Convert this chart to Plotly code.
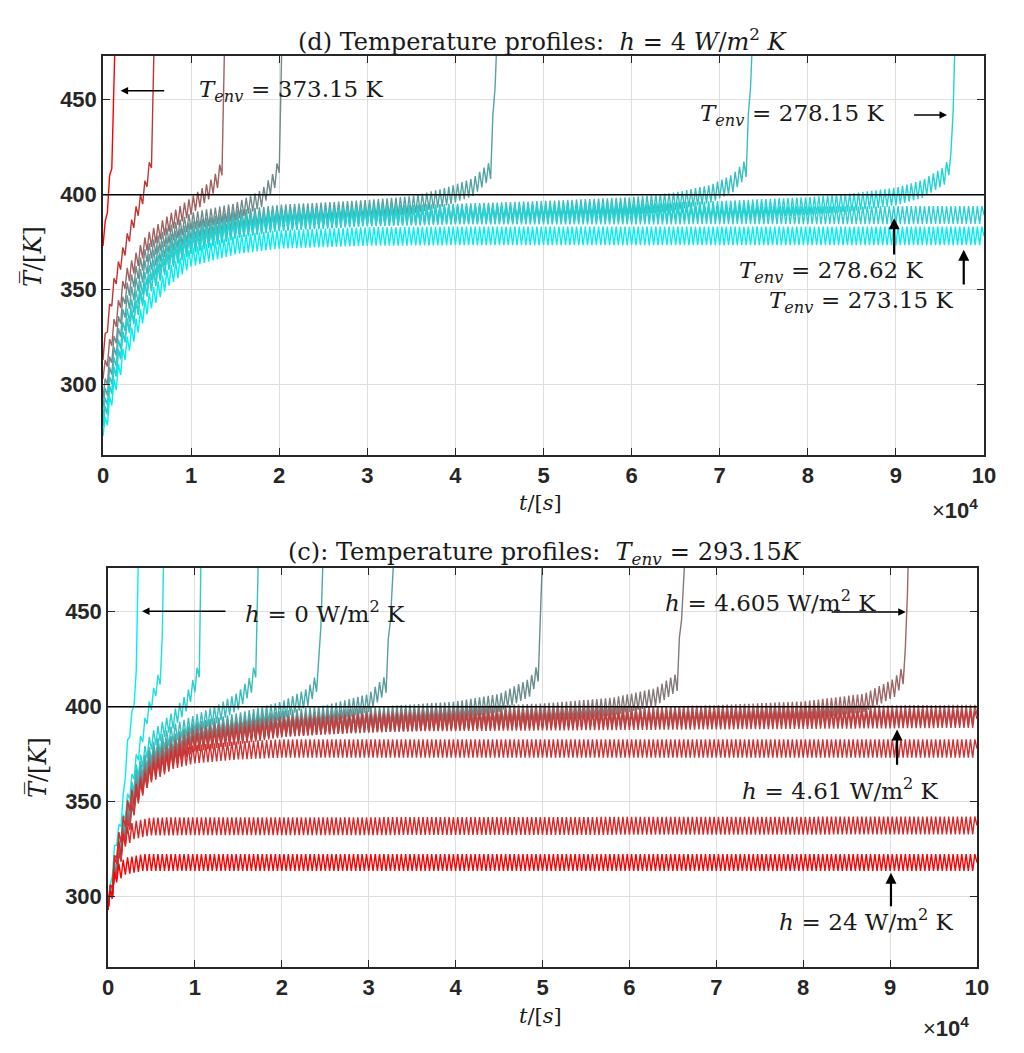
import numpy as np
import plotly.graph_objects as go

PERIOD = 500.0  # s, spacing of the teeth

# ---- (d) h = 4 W/m2K, several T_env  (knot times in units of 1e4 s, temps in K)
top_t = [
    [0, 0.045, 0.08, 0.11, 0.136],
    [0, 0.04, 0.136, 0.25, 0.36, 0.458, 0.55, 0.58],
    [0, 0.1, 0.25, 0.5, 0.75, 1.0, 1.2, 1.3, 1.36, 1.38],
    [0, 0.1, 0.25, 0.5, 0.75, 1.0, 1.5, 1.8, 1.95, 2.0, 2.03],
    [0, 0.1, 0.25, 0.5, 0.75, 1.0, 1.5, 2.0, 3.0, 3.5, 3.9, 4.2, 4.4, 4.47],
    [0, 0.1, 0.25, 0.5, 0.75, 1.0, 1.5, 2.0, 3.0, 4.0, 5.0, 6.0, 6.5, 6.9, 7.15, 7.3, 7.37],
    [0, 0.1, 0.25, 0.5, 0.75, 1.0, 1.5, 2.0, 3.0, 4.0, 6.0, 7.0, 8.0, 8.5, 9.0, 9.3, 9.55, 9.63, 9.67],
    [0, 0.1, 0.25, 0.5, 0.75, 1.0, 1.5, 2.0, 3.0, 4.0, 10.0],
    [0, 0.1, 0.25, 0.5, 0.75, 1.0, 1.5, 2.0, 3.0, 4.0, 10.0],
]
top_T = [
    [373, 391, 410, 420, 480],
    [313, 329, 355, 372, 388, 400, 418, 480],
    [303, 325, 355, 375, 385, 394, 402, 408, 416, 480],
    [293, 316, 347, 369, 379, 386, 391, 398, 408, 416, 480],
    [288, 310, 340, 363, 374, 381, 387, 390, 392.5, 394.5, 399, 404, 413, 480],
    [283, 305, 333, 357, 370, 377, 384, 387.5, 389.5, 390.5, 392, 394, 396.5, 400.5, 406, 414, 480],
    [278, 300, 328, 352, 366, 374, 382, 386, 388.5, 389.5, 390.5, 392, 394, 396, 399, 403, 410, 418, 480],
    [278.6, 300, 327, 351, 365, 373.5, 381.5, 385.5, 388, 389, 389.3],
    [273, 294, 318, 342, 357, 367, 373.5, 376.5, 378, 378.3, 378.3],
]
top_amp = [3.0, 4.0, 4.5, 4.5, 4.7, 4.7, 4.7, 4.7, 4.9]
top_col = ["#ff0000", "#c23434", "#a26060", "#738a8a", "#55a3a3",
           "#37c0c0", "#22d4d4", "#2ad0d0", "#00f0f0"]

# ---- (c) T_env = 293.15 K, several h
bot_t = [
    [0, 0.08, 0.16, 0.22, 0.29, 0.33, 0.35],
    [0, 0.1, 0.2, 0.33, 0.45, 0.56, 0.62, 0.64],
    [0, 0.1, 0.2, 0.33, 0.5, 0.75, 0.9, 1.0, 1.05, 1.07],
    [0, 0.1, 0.2, 0.33, 0.5, 0.75, 1.0, 1.25, 1.5, 1.65, 1.7, 1.73],
    [0, 0.1, 0.2, 0.33, 0.5, 1.0, 1.5, 2.0, 2.3, 2.42, 2.48],
    [0, 0.1, 0.2, 0.33, 0.5, 1.0, 1.5, 2.0, 2.5, 3.0, 3.2, 3.29],
    [0, 0.1, 0.2, 0.33, 0.5, 1.0, 2.0, 3.0, 4.0, 4.5, 4.85, 4.95, 5.0],
    [0, 0.1, 0.2, 0.33, 0.5, 1.0, 2.0, 3.0, 4.0, 5.0, 5.8, 6.3, 6.55, 6.64],
    [0, 0.1, 0.2, 0.33, 0.5, 1.0, 2.0, 4.0, 6.0, 7.0, 8.0, 8.7, 9.05, 9.17, 9.21],
    [0, 0.1, 0.2, 0.33, 0.5, 1.0, 2.0, 4.0, 6.0, 8.0, 10.0],
    [0, 0.1, 0.2, 0.33, 0.5, 1.0, 2.0, 3.0, 10.0],
    [0, 0.1, 0.25, 0.5, 0.75, 1.0, 1.5, 2.0, 10.0],
    [0, 0.05, 0.1, 0.2, 0.3, 0.5, 10.0],
    [0, 0.05, 0.1, 0.2, 0.4, 10.0],
]
bot_T = [
    [293, 326, 342, 378, 399, 418, 480],
    [293, 322, 345, 372, 395, 411, 418, 480],
    [293, 320, 342, 366, 382, 393, 402, 412, 420, 480],
    [293, 319, 340, 363, 376, 386, 391, 396, 403, 412, 420, 480],
    [293, 318, 338, 361, 374, 387, 392, 398, 405, 414, 480],
    [293, 317, 337, 359, 372, 386, 390, 393, 396, 402, 412, 480],
    [293, 316, 336, 357, 371, 385, 391, 395, 398, 402, 410, 418, 480],
    [293, 316, 335, 356, 370, 384, 390, 393, 395, 397, 400, 405, 413, 480],
    [293, 315, 334, 355, 369, 384, 390, 393, 395, 396, 398, 402, 410, 418, 480],
    [293, 315, 333, 354, 368, 383, 389.5, 393, 394.5, 395.5, 396],
    [293, 314, 332, 352, 366, 381, 388.5, 391.5, 393.5],
    [293, 325, 350, 365, 372, 375, 377, 378, 378],
    [293, 310, 322, 331, 335, 337, 337.5],
    [293, 305, 312, 316, 318, 318],
]
bot_amp = [3.0, 4.0, 4.5, 4.6, 4.7, 4.7, 4.7, 4.7, 4.8, 5.0, 4.6, 4.8, 4.7, 4.4]
bot_col = ["#00f0f0", "#1ee0e0", "#2ad0d0", "#3cbdbd", "#4aabab", "#5a9e9e",
           "#6a8e8e", "#857878", "#9e6666", "#ad5a5a", "#c43c3c", "#cf3232",
           "#dc2424", "#ff0000"]

xticks = list(range(0, 11))
yticks = [300, 350, 400, 450]


def zigzag(kt, kT, amp):
    kt = np.array(kt) * 1e4
    ts = np.arange(0.0, kt[-1], PERIOD / 2)
    mean = np.interp(ts, kt, kT)
    sign = np.where(np.arange(len(ts)) % 2 == 1, 1.0, -1.0)
    sign[0] = 0.0
    ys = mean + amp * sign
    return np.append(ts, kt[-1]), np.append(ys, kT[-1])


fig = go.Figure()

for kt, kT, a, c in zip(top_t, top_T, top_amp, top_col):
    x, y = zigzag(kt, kT, a)
    fig.add_trace(go.Scatter(x=x, y=y, mode="lines", line=dict(color=c, width=1.4),
                             xaxis="x", yaxis="y", showlegend=False))

for kt, kT, a, c in zip(bot_t, bot_T, bot_amp, bot_col):
    x, y = zigzag(kt, kT, a)
    fig.add_trace(go.Scatter(x=x, y=y, mode="lines", line=dict(color=c, width=1.4),
                             xaxis="x2", yaxis="y2", showlegend=False))

W, H = 1024, 1053
axcol = "#262626"
tickfont = dict(family="Liberation Sans", size=22, color=axcol, weight="bold")

xax = dict(range=[0, 1e5], tickvals=[v * 1e4 for v in xticks], ticktext=[str(v) for v in xticks],
           ticks="inside", ticklen=7, tickcolor=axcol, showline=True, linecolor=axcol, linewidth=1.5,
           mirror="ticks", showgrid=True, gridcolor="#dedede", gridwidth=1, zeroline=False,
           tickfont=tickfont, automargin=False)
yax = dict(range=[263, 473], tickvals=yticks, ticks="inside", ticklen=7, tickcolor=axcol,
           showline=True, linecolor=axcol, linewidth=1.5, mirror="ticks", showgrid=True,
           gridcolor="#dedede", gridwidth=1, zeroline=False, tickfont=tickfont, automargin=False)

fig.update_layout(
    width=W, height=H, margin=dict(l=0, r=0, t=0, b=0, autoexpand=False),
    plot_bgcolor="white", paper_bgcolor="white",
    xaxis=dict(xax, domain=[103 / W, 984 / W], anchor="y"),
    yaxis=dict(yax, domain=[1 - 455 / H, 1 - 56 / H], anchor="x"),
    xaxis2=dict(xax, domain=[108 / W, 977 / W], anchor="y2"),
    yaxis2=dict(yax, domain=[1 - 967 / H, 1 - 568 / H], anchor="x2"),
)

# T = 400 K reference line
for xr, yr in [("x", "y"), ("x2", "y2")]:
    fig.add_shape(type="line", xref=xr, yref=yr, x0=0, x1=1e5, y0=400, y1=400,
                  line=dict(color="black", width=1.5))

serif = dict(family="DejaVu Serif", size=23, color="#1a1a1a")
tenv = "<i>T</i><sub><i>env</i></sub>"
eq = "&#8196;=&#8196;"

# titles and axis labels (paper coordinates)
paper_text = [
    (543, 40, "(d) Temperature profiles:  <i>h</i>" + eq + "4 <i>W</i>/<i>m</i><sup>2</sup> <i>K</i>", 0, 24),
    (545, 553, "(c): Temperature profiles:  " + tenv + eq + "293.15<i>K</i>", 0, 24),
    (540, 503, "<i>t</i>/[<i>s</i>]", 0, 21),
    (540, 1016, "<i>t</i>/[<i>s</i>]", 0, 21),
    (33, 257, "<i>T&#773;</i>/[<i>K</i>]", -90, 24),
    (38, 768, "<i>T&#773;</i>/[<i>K</i>]", -90, 24),
]
for px, py, txt, ang, fs in paper_text:
    fig.add_annotation(xref="paper", yref="paper", x=px / W, y=1 - py / H, text=txt,
                       showarrow=False, textangle=ang, font=dict(serif, size=fs),
                       xanchor="center", yanchor="middle")

for px, py in [(955, 509), (946, 1027)]:
    fig.add_annotation(xref="paper", yref="paper", x=px / W, y=1 - py / H,
                       text="×<b>10<sup>4</sup></b>", showarrow=False,
                       font=dict(family="Liberation Sans", size=22, color=axcol),
                       xanchor="center", yanchor="middle")

# curve labels
labels = [
    ("x", "y", 2.14, 454.7, tenv + eq + "373.15 K"),
    ("x", "y", 7.83, 441.9, tenv + eq + "278.15 K"),
    ("x", "y", 8.27, 359.5, tenv + eq + "278.62 K"),
    ("x", "y", 8.61, 343.7, tenv + eq + "273.15 K"),
    ("x2", "y2", 2.50, 450.0, "<i>h</i>" + eq + "0 W/m<sup>2</sup> K"),
    ("x2", "y2", 7.62, 455.6, "<i>h</i>" + eq + "4.605 W/m<sup>2</sup> K"),
    ("x2", "y2", 8.43, 356.8, "<i>h</i>" + eq + "4.61 W/m<sup>2</sup> K"),
    ("x2", "y2", 8.73, 287.7, "<i>h</i>" + eq + "24 W/m<sup>2</sup> K"),
]
for xr, yr, lx, ly, txt in labels:
    fig.add_annotation(xref=xr, yref=yr, x=lx * 1e4, y=ly, text=txt, showarrow=False,
                       font=serif, xanchor="center", yanchor="middle")

# arrows: (head x, head y, tail x, tail y, width)
arrows = [
    ("x", "y", 0.20, 454.7, 0.712, 454.7, 1.5),
    ("x", "y", 9.58, 441.9, 9.19, 441.9, 1.5),
    ("x", "y", 8.98, 387.6, 8.98, 367.7, 2.2),
    ("x", "y", 9.77, 371.0, 9.77, 352.0, 2.2),
    ("x2", "y2", 0.391, 450.2, 1.369, 450.2, 1.5),
    ("x2", "y2", 9.18, 449.8, 8.31, 449.8, 1.5),
    ("x2", "y2", 9.08, 388.0, 9.08, 368.7, 2.2),
    ("x2", "y2", 9.01, 312.6, 9.01, 294.2, 2.2),
]
for xr, yr, hx, hy, tx, ty, w in arrows:
    fig.add_annotation(xref=xr, yref=yr, axref=xr, ayref=yr, x=hx * 1e4, y=hy,
                       ax=tx * 1e4, ay=ty, text="", showarrow=True, arrowhead=2,
                       arrowsize=1, arrowwidth=w, arrowcolor="black")

fig.write_html("out.html", config={"displayModeBar": False},
               post_script="document.body.style.margin='0';")
